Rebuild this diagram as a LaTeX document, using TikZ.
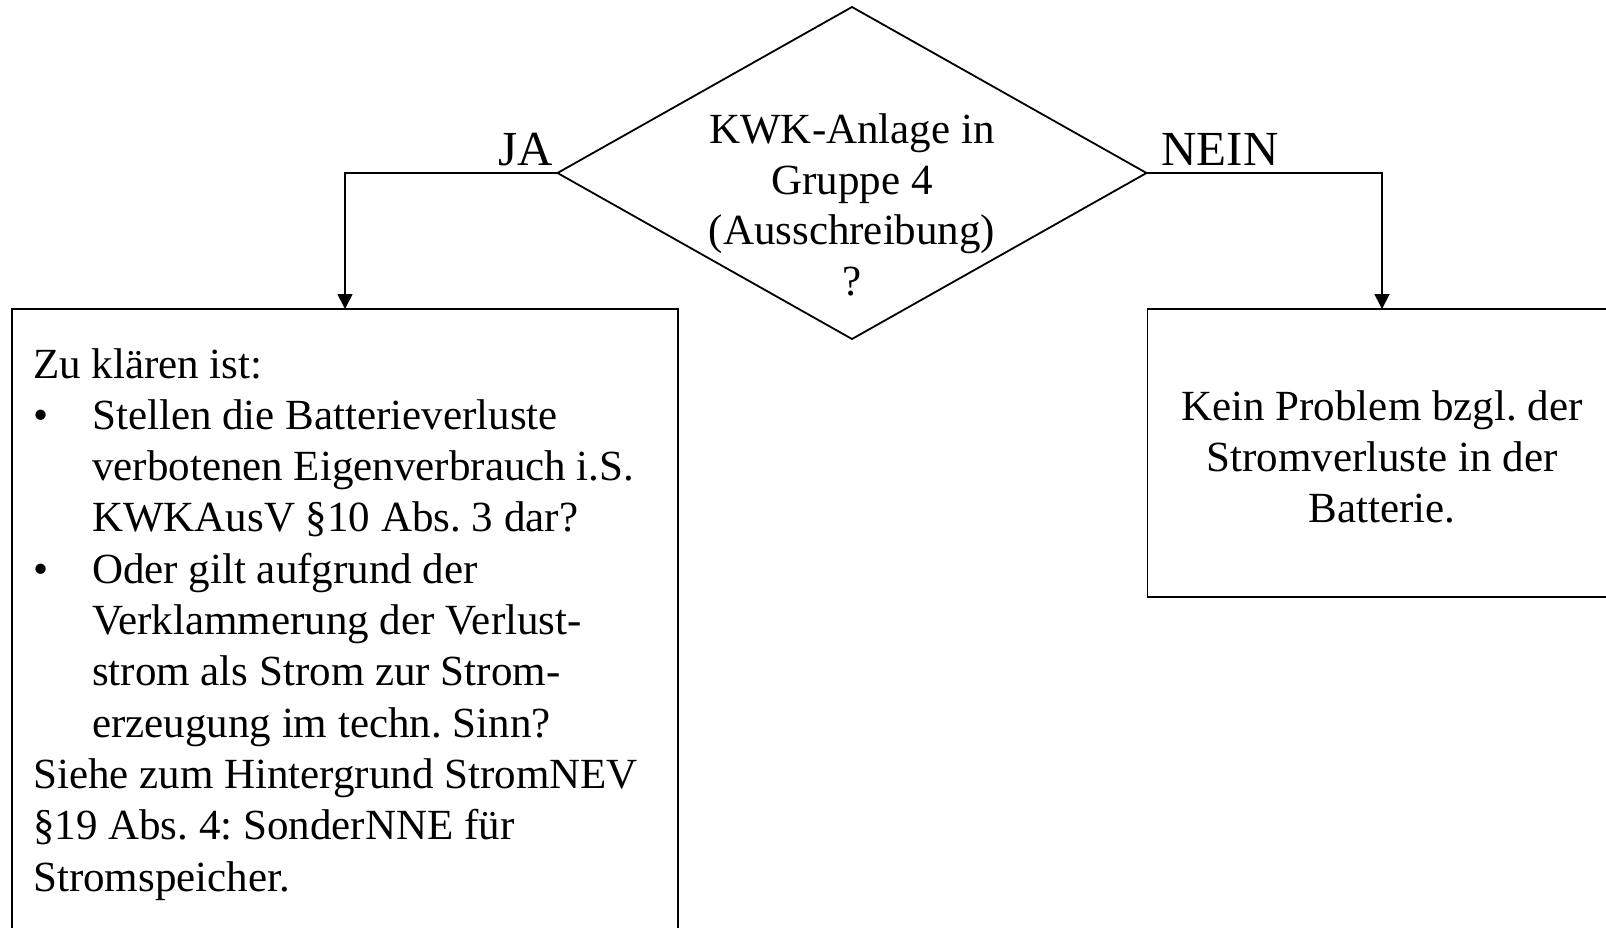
\documentclass[tikz,border=0pt]{standalone}
\usepackage{fontspec}
\setmainfont{Liberation Serif}
\usetikzlibrary{shapes.geometric,arrows.meta}
\frenchspacing
\newcommand\mybul{\makebox[59pt][l]{•}}
\newcommand\myind{\hspace*{59pt}}
\tikzset{
  boxshape/.style={draw, line width=1.8pt, rectangle, inner sep=0pt, outer sep=0pt},
  txt/.style={font=\fontsize{43}{51.3}\selectfont, inner sep=0pt},
  lbl/.style={font=\fontsize{49}{55}\selectfont, inner sep=0pt, anchor=base},
  conn/.style={line width=1.8pt, -{Triangle[length=15pt,width=15pt]}},
}
\begin{document}
\begin{tikzpicture}[x=1pt,y=-1pt]
\useasboundingbox (0,0) rectangle (1606,927);
% decision diamond
\node[draw, diamond, line width=1.8pt, aspect=1.774, minimum width=589pt, minimum height=332pt, inner sep=0pt, outer sep=0pt] (dec) at (852,173) {};
\node[txt, align=center, font=\fontsize{43}{50.5}\selectfont] (dectext) at (852,205) {KWK-Anlage in\\Gruppe 4\\(Ausschreibung)\\?};
% boxes
\node[boxshape, anchor=north, minimum width=666pt, minimum height=720pt] (leftbox) at (345,309) {};
\node[boxshape, anchor=north, minimum width=469pt, minimum height=288pt] (rightbox) at (1382,309) {};
% labels
\node[lbl] (ja) at (526,165) {JA};
\node[lbl] (nein) at (1220,165) {NEIN};
% connectors
\draw[conn] (dec.west) -| (leftbox.north);
\draw[conn] (dec.east) -| (rightbox.north);
% texts
\node[txt, anchor=north west, align=left] (lefttext) at (33,348) {Zu klären ist:\\
\mybul Stellen die Batterieverluste\\
\myind verbotenen Eigenverbrauch i.S.\\
\myind KWKAusV §10 Abs. 3 dar?\\
\mybul Oder gilt aufgrund der\\
\myind Verklammerung der Verlust-\\
\myind strom als Strom zur Strom-\\
\myind erzeugung im techn. Sinn?\\
Siehe zum Hintergrund StromNEV\\
§19 Abs. 4: SonderNNE für\\
Stromspeicher.};
\node[txt, align=center] (righttext) at (1382,457) {Kein Problem bzgl. der\\Stromverluste in der\\Batterie.};
\end{tikzpicture}
\end{document}
